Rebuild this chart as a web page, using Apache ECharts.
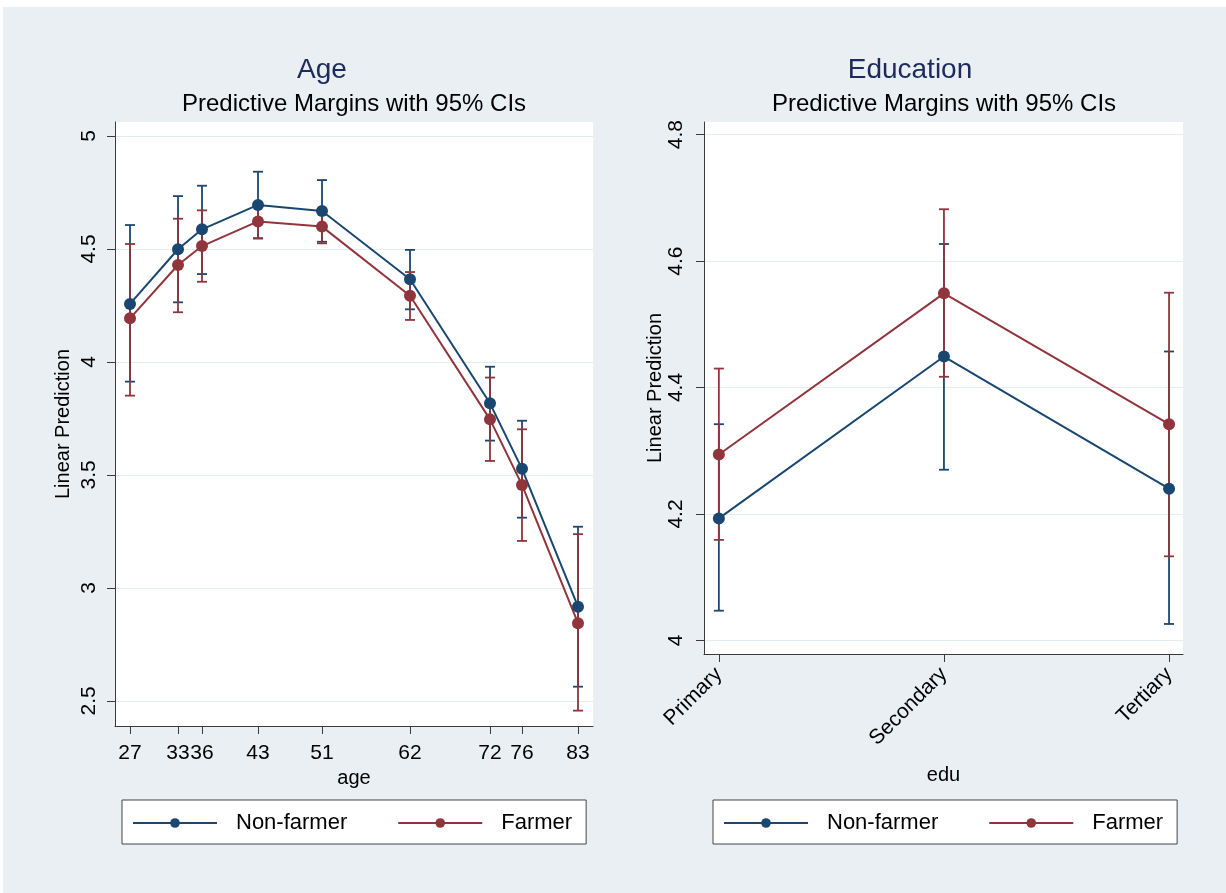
<!DOCTYPE html>
<html>
<head>
<meta charset="utf-8">
<script src="https://cdn.jsdelivr.net/npm/echarts@6/dist/echarts.min.js"></script>
<style>
  html, body { margin: 0; padding: 0; background: #fff; }
  #chart {
    width: 1226px; height: 893px;
    background:
      linear-gradient(#fff, #fff) 0 0 / 100% 7px no-repeat,
      linear-gradient(#fff, #fff) 0 0 / 3px 100% no-repeat,
      #e9eff2;
  }
</style>
</head>
<body>
<div id="chart"></div>
<script>
// ---- Age panel: predictive margins with 95% CIs ----
const ages = [27, 33, 36, 43, 51, 62, 72, 76, 83];
const nonFarmerAge   = [4.257, 4.499, 4.587, 4.695, 4.668, 4.366, 3.817, 3.527, 2.917];
const nonFarmerAgeLo = [3.913, 4.264, 4.389, 4.548, 4.532, 4.233, 3.652, 3.311, 2.563];
const nonFarmerAgeHi = [4.606, 4.734, 4.780, 4.842, 4.805, 4.496, 3.979, 3.740, 3.271];
const farmerAge      = [4.193, 4.429, 4.513, 4.622, 4.599, 4.293, 3.746, 3.456, 2.844];
const farmerAgeLo    = [3.851, 4.220, 4.355, 4.546, 4.525, 4.186, 3.562, 3.208, 2.457];
const farmerAgeHi    = [4.522, 4.634, 4.671, 4.698, 4.670, 4.398, 3.931, 3.702, 3.238];
const ageTicksY = [2.5, 3, 3.5, 4, 4.5, 5];

// ---- Education panel ----
const eduLevels = ['Primary', 'Secondary', 'Tertiary'];
const nonFarmerEdu   = [4.193, 4.449, 4.240];
const nonFarmerEduLo = [4.047, 4.270, 4.026];
const nonFarmerEduHi = [4.342, 4.627, 4.457];
const farmerEdu      = [4.294, 4.549, 4.342];
const farmerEduLo    = [4.159, 4.417, 4.133];
const farmerEduHi    = [4.430, 4.682, 4.550];
const eduTicksY = [4, 4.2, 4.4, 4.6, 4.8];

const NAVY = '#1a476f';
const MAROON = '#90353b';
const FONT = '"Liberation Sans", Arial, sans-serif';
const AXIS_COLOR = '#3a3a3a';
const GRID_COLOR = '#e6edf0';

const chart = echarts.init(document.getElementById('chart'), null, { renderer: 'canvas' });

// Vertical capped range bar for a confidence interval: value = [x, low, high]
function ciBar(color) {
  return function (params, api) {
    const x = api.value(0);
    const pLo = api.coord([x, api.value(1)]);
    const pHi = api.coord([x, api.value(2)]);
    const cap = 5;
    const style = { stroke: color, lineWidth: 1.8, fill: null };
    return {
      type: 'group',
      children: [
        { type: 'line', shape: { x1: pLo[0], y1: pLo[1], x2: pHi[0], y2: pHi[1] }, style: style },
        { type: 'line', shape: { x1: pLo[0] - cap, y1: pLo[1], x2: pLo[0] + cap, y2: pLo[1] }, style: style },
        { type: 'line', shape: { x1: pHi[0] - cap, y1: pHi[1], x2: pHi[0] + cap, y2: pHi[1] }, style: style }
      ]
    };
  };
}

function fmt(v) { return String(+(+v).toFixed(2)); }

const baseAxis = {
  axisLine: { show: true, onZero: false, lineStyle: { color: AXIS_COLOR, width: 1 } },
  axisTick: { show: true, length: 8, lineStyle: { color: AXIS_COLOR, width: 1 } },
  splitLine: { show: false },
  nameTextStyle: { fontFamily: FONT, fontSize: 20, color: '#000' }
};

function legendFor(left) {
  return {
    left: left, top: 800,
    orient: 'horizontal',
    data: ['Non-farmer', 'Farmer'],
    itemWidth: 84, itemHeight: 12, itemGap: 50,
    padding: [12, 14, 10, 10],
    backgroundColor: '#fff',
    borderColor: '#444', borderWidth: 1, borderRadius: 0,
    selectedMode: false,
    textStyle: { fontFamily: FONT, fontSize: 22, color: '#000', padding: [0, 0, 0, 14] }
  };
}

const xy = (xs, ys) => xs.map((x, i) => [x, ys[i]]);
const ci = (xs, lo, hi) => xs.map((x, i) => [x, lo[i], hi[i]]);
const eduIdx = eduLevels.map((_, i) => i);

const option = {
  backgroundColor: 'transparent',
  animation: false,
  textStyle: { fontFamily: FONT },
  title: [
    { text: 'Age', left: 322, top: 56, textAlign: 'center', padding: 0,
      textStyle: { fontFamily: FONT, fontSize: 28, fontWeight: 'normal', color: '#1c2a5c' } },
    { text: 'Predictive Margins with 95% CIs', left: 354, top: 92, textAlign: 'center', padding: 0,
      textStyle: { fontFamily: FONT, fontSize: 24, fontWeight: 'normal', color: '#000' } },
    { text: 'Education', left: 910, top: 56, textAlign: 'center', padding: 0,
      textStyle: { fontFamily: FONT, fontSize: 28, fontWeight: 'normal', color: '#1c2a5c' } },
    { text: 'Predictive Margins with 95% CIs', left: 944, top: 92, textAlign: 'center', padding: 0,
      textStyle: { fontFamily: FONT, fontSize: 24, fontWeight: 'normal', color: '#000' } }
  ],
  legend: [legendFor(122), legendFor(713)],
  grid: [
    { left: 115, top: 122, width: 478, height: 604, show: true, backgroundColor: '#fff', borderWidth: 0, containLabel: false },
    { left: 704, top: 122, width: 479, height: 532, show: true, backgroundColor: '#fff', borderWidth: 0, containLabel: false }
  ],
  xAxis: [
    Object.assign({}, baseAxis, {
      type: 'value', gridIndex: 0, min: 25.125, max: 84.875,
      name: 'age', nameLocation: 'middle', nameGap: 40,
      axisTick: Object.assign({}, baseAxis.axisTick, { customValues: ages }),
      axisLabel: { customValues: ages, margin: 17, fontFamily: FONT, fontSize: 21, color: '#000' }
    }),
    Object.assign({}, baseAxis, {
      type: 'value', gridIndex: 1, min: -0.066, max: 2.062,
      name: 'edu', nameLocation: 'middle', nameGap: 111,
      axisTick: Object.assign({}, baseAxis.axisTick, { customValues: eduIdx }),
      axisLabel: { customValues: eduIdx, rotate: 45, margin: 17, fontFamily: FONT, fontSize: 21, color: '#000',
        formatter: v => eduLevels[Math.round(v)] }
    })
  ],
  yAxis: [
    Object.assign({}, baseAxis, {
      type: 'value', gridIndex: 0, min: 2.389, max: 5.062,
      name: 'Linear Prediction', nameLocation: 'middle', nameGap: 42,
      axisTick: Object.assign({}, baseAxis.axisTick, { customValues: ageTicksY }),
      axisLabel: { customValues: ageTicksY, rotate: 90, margin: 15, fontFamily: FONT, fontSize: 21, color: '#000', formatter: fmt },
      splitLine: { show: true, lineStyle: { color: GRID_COLOR, width: 1.2 } }
    }),
    Object.assign({}, baseAxis, {
      type: 'value', gridIndex: 1, min: 3.9785, max: 4.82,
      name: 'Linear Prediction', nameLocation: 'middle', nameGap: 38,
      axisTick: Object.assign({}, baseAxis.axisTick, { customValues: eduTicksY }),
      axisLabel: { customValues: eduTicksY, rotate: 90, margin: 17, fontFamily: FONT, fontSize: 21, color: '#000', formatter: fmt },
      splitLine: { show: true, lineStyle: { color: GRID_COLOR, width: 1.2 } }
    })
  ],
  series: [
    { type: 'custom', name: 'Non-farmer CI (age)', xAxisIndex: 0, yAxisIndex: 0, z: 2,
      renderItem: ciBar(NAVY), encode: { x: 0, y: [1, 2] }, data: ci(ages, nonFarmerAgeLo, nonFarmerAgeHi) },
    { type: 'custom', name: 'Farmer CI (age)', xAxisIndex: 0, yAxisIndex: 0, z: 2,
      renderItem: ciBar(MAROON), encode: { x: 0, y: [1, 2] }, data: ci(ages, farmerAgeLo, farmerAgeHi) },
    { type: 'line', name: 'Non-farmer', xAxisIndex: 0, yAxisIndex: 0, z: 3,
      symbol: 'circle', symbolSize: 12, showAllSymbol: true,
      lineStyle: { color: NAVY, width: 2 }, itemStyle: { color: NAVY },
      data: xy(ages, nonFarmerAge) },
    { type: 'line', name: 'Farmer', xAxisIndex: 0, yAxisIndex: 0, z: 3,
      symbol: 'circle', symbolSize: 12, showAllSymbol: true,
      lineStyle: { color: MAROON, width: 2 }, itemStyle: { color: MAROON },
      data: xy(ages, farmerAge) },

    { type: 'custom', name: 'Non-farmer CI (edu)', xAxisIndex: 1, yAxisIndex: 1, z: 2,
      renderItem: ciBar(NAVY), encode: { x: 0, y: [1, 2] }, data: ci(eduIdx, nonFarmerEduLo, nonFarmerEduHi) },
    { type: 'custom', name: 'Farmer CI (edu)', xAxisIndex: 1, yAxisIndex: 1, z: 2,
      renderItem: ciBar(MAROON), encode: { x: 0, y: [1, 2] }, data: ci(eduIdx, farmerEduLo, farmerEduHi) },
    { type: 'line', name: 'Non-farmer', xAxisIndex: 1, yAxisIndex: 1, z: 3,
      symbol: 'circle', symbolSize: 12, showAllSymbol: true,
      lineStyle: { color: NAVY, width: 2 }, itemStyle: { color: NAVY },
      data: xy(eduIdx, nonFarmerEdu) },
    { type: 'line', name: 'Farmer', xAxisIndex: 1, yAxisIndex: 1, z: 3,
      symbol: 'circle', symbolSize: 12, showAllSymbol: true,
      lineStyle: { color: MAROON, width: 2 }, itemStyle: { color: MAROON },
      data: xy(eduIdx, farmerEdu) }
  ]
};

chart.setOption(option);
</script>
</body>
</html>
